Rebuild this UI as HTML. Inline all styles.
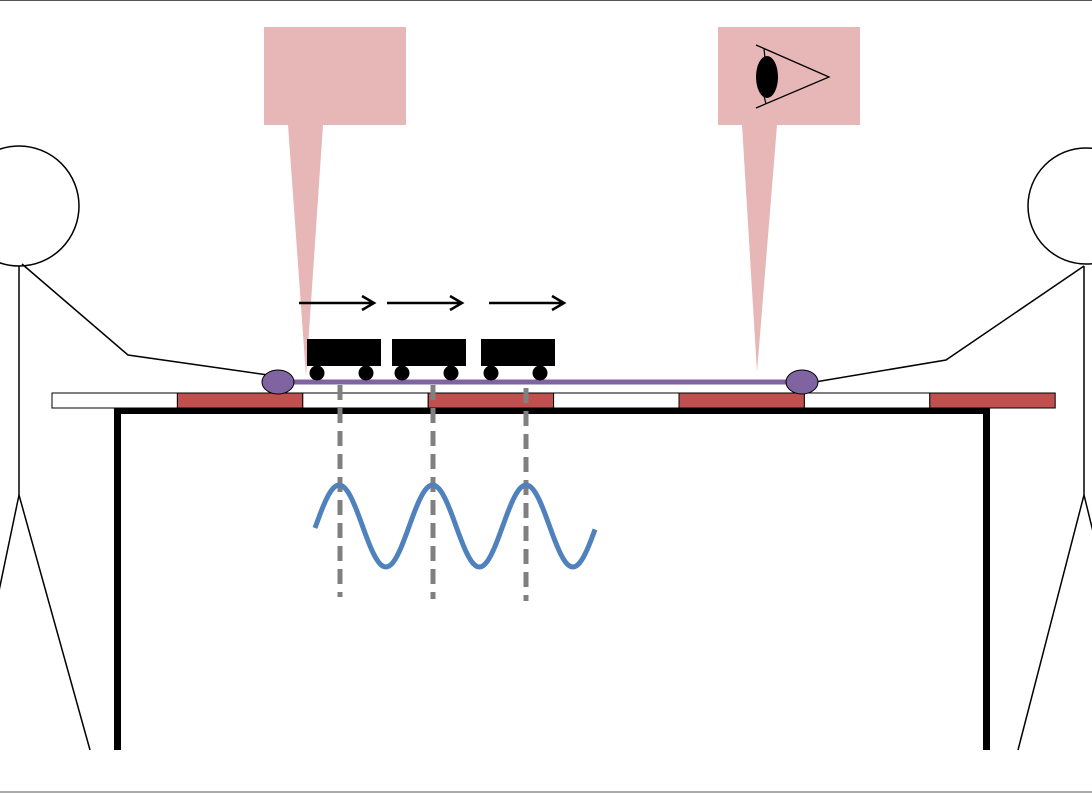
<!DOCTYPE html>
<html><head><meta charset="utf-8"><style>
html,body{margin:0;padding:0;background:#fff;}
svg{display:block;}
</style></head><body>
<svg id="s" width="1092" height="793" viewBox="0 0 1092 793" xmlns="http://www.w3.org/2000/svg">
<line x1="0" y1="0.5" x2="1092" y2="0.5" stroke="#555" stroke-width="1"/>
<line x1="0" y1="792" x2="1092" y2="792" stroke="#555" stroke-width="1"/>
<g>
<rect x="264" y="27" width="142" height="98" fill="#e6b7b6"/>
<polygon points="288,125 323,125 306,376" fill="#e6b7b6"/>
</g>
<g>
<rect x="718" y="27" width="142" height="98" fill="#e6b7b6"/>
<polygon points="742,125 777,125 757,372" fill="#e6b7b6"/>
<polyline points="756,45 829,77 756,108" fill="none" stroke="#000" stroke-width="1.3"/>
<line x1="764" y1="49" x2="765" y2="58" stroke="#000" stroke-width="1.2"/>
<line x1="764" y1="96" x2="766" y2="104" stroke="#000" stroke-width="1.2"/>
<ellipse cx="767" cy="77" rx="11" ry="21" fill="#000"/>
</g>
<g id="bars"></g>
<g>
<line x1="114" y1="411" x2="990" y2="411" stroke="#000" stroke-width="6"/>
<line x1="117.5" y1="411" x2="117.5" y2="750" stroke="#000" stroke-width="7"/>
<line x1="986.5" y1="411" x2="986.5" y2="750" stroke="#000" stroke-width="7"/>
</g>
<g stroke="#808080" stroke-width="5" stroke-dasharray="15,8">
<line x1="340" y1="385" x2="340" y2="597"/>
<line x1="433" y1="385" x2="433" y2="599"/>
<line x1="526" y1="388" x2="526" y2="601"/>
</g>
<line x1="278" y1="382" x2="802" y2="382" stroke="#8064a2" stroke-width="5"/>
<g fill="none" stroke="#000" stroke-width="1.5">
<circle cx="19" cy="206" r="60"/>
<polyline points="19,266 19,495" />
<polyline points="-5,610 19,495 90,750"/>
<polyline points="22,264 128,355 268,375"/>
<circle cx="1086" cy="206" r="58"/>
<polyline points="1084,266 1084,495"/>
<polyline points="1018,750 1084,495 1100,560"/>
<polyline points="1084,266 946,360 815,382"/>
</g>
<ellipse cx="278" cy="382" rx="16" ry="12" fill="#8064a2" stroke="#000" stroke-width="1"/>
<ellipse cx="802" cy="382" rx="16" ry="12" fill="#8064a2" stroke="#000" stroke-width="1"/>
<g id="train"></g>
<path id="wave" fill="none" stroke="#4f81bd" stroke-width="5"/>
</svg>
<script>
const barColors = ["#fff","#c0504d","#fff","#c0504d","#fff","#c0504d","#fff","#c0504d"];
const carStarts = [307, 392, 481];
const arrowStarts = [299, 387, 489];
const ns = "http://www.w3.org/2000/svg";
const bars = document.getElementById('bars');
barColors.forEach((c,i)=>{
  const r=document.createElementNS(ns,'rect');
  r.setAttribute('x',52+i*125.4);r.setAttribute('y',393);r.setAttribute('width',125.4);r.setAttribute('height',15);
  r.setAttribute('fill',c);r.setAttribute('stroke','#000');r.setAttribute('stroke-width','1');
  
  
  bars.appendChild(r);
});
const train=document.getElementById('train');
carStarts.forEach(x=>{
  const r=document.createElementNS(ns,'rect');
  r.setAttribute('x',x);r.setAttribute('y',339);r.setAttribute('width',74);r.setAttribute('height',27);r.setAttribute('fill','#000');
  
  
  train.appendChild(r);
  [x+10,x+59].forEach(cx=>{
    const c=document.createElementNS(ns,'circle');
    c.setAttribute('cx',cx);c.setAttribute('cy',373);c.setAttribute('r',7.5);c.setAttribute('fill','#000');
    
    
    train.appendChild(c);
  });
});
arrowStarts.forEach(x=>{
  const p=document.createElementNS(ns,'path');
  p.setAttribute('d',`M${x},303 H${x+75} M${x+63},296 L${x+75},303 L${x+63},310`);
  p.setAttribute('fill','none');p.setAttribute('stroke','#000');p.setAttribute('stroke-width','2.5');
  
  
  train.appendChild(p);
});
let d='';
for(let x=315;x<=595;x+=2){
  const y=526-41*Math.sin((x-315)/93.5*2*Math.PI-0.05);
  d+=(d?'L':'M')+x+','+y.toFixed(1);
}
document.getElementById('wave').setAttribute('d',d);
</script>
</body></html>
